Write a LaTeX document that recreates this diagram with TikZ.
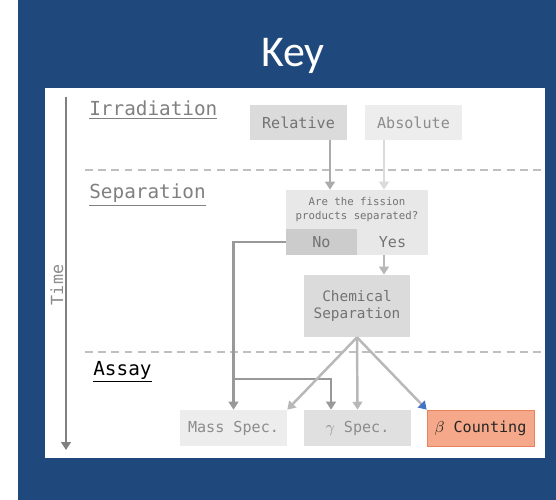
\documentclass[tikz,border=0pt]{standalone}
\usepackage{fontspec}
\setmonofont{DejaVu Sans Mono}
\newfontfamily\keyfont{Carlito}
\usetikzlibrary{positioning}
\usetikzlibrary{arrows.meta}
\usetikzlibrary{calc}

\definecolor{slideblue}{RGB}{31,72,124}
\definecolor{tipblue}{RGB}{68,114,196}
\definecolor{betafill}{RGB}{245,169,138}
\definecolor{betaedge}{RGB}{232,130,92}

\begin{document}
\begin{tikzpicture}[x=0.02cm,y=-0.02cm,
  box/.style={inner sep=0pt, minimum width=1.94cm, minimum height=0.70cm,
    text=black!55, font=\ttfamily\fontsize{8.6}{10.5}\selectfont},
  assay/.style={box, minimum width=2.14cm, minimum height=0.72cm},
  phase/.style={anchor=west, inner sep=0pt, text=black!50,
    font=\ttfamily\fontsize{11}{13}\selectfont},
  divider/.style={black!25, line width=1.1pt, dash pattern=on 4.5pt off 3pt},
  arr/.style={-{Triangle[length=4.5pt,width=5.5pt]}, line width=1.4pt},
  dark/.style={arr, black!40},
  light/.style={arr, black!28},
]

  % background and white panel
  \useasboundingbox (0,0) rectangle (556,500);
  \fill[white] (0,0) rectangle (556,500);
  \fill[slideblue] (18,0) rectangle (556,500);
  \fill[white] (45,88) rectangle (545,458);

  \node[text=white, font=\keyfont\fontsize{25}{28}\selectfont] (key) at (293,56) {Key};

  % time axis
  \coordinate (tstart) at (66,97);
  \coordinate (tend) at (66,450);
  \draw[arr, black!50] (tstart) -- (tend);
  \node[rotate=90, text=black!45, font=\ttfamily\fontsize{9.5}{11}\selectfont] (time) at (57,285) {Time};

  % phases
  \node[phase] (irr) at (89,110) {\underline{Irradiation}};
  \node[phase] (sep) at (89,195) {\underline{Separation}};
  \node[phase, text=black] (ass) at (93,372) {\underline{Assay}};
  \draw[divider] (85,170) -- (541,170);
  \draw[divider] (85,352) -- (541,352);

  % irradiation
  \node[box, fill=black!14] (rel) at (298.5,122.5) {Relative};
  \node[box, fill=black!7, text=black!45] (abs) at (413.5,122.5) {Absolute};

  % separation question
  \node[box, fill=black!9, minimum width=2.84cm, minimum height=0.78cm, align=center,
    font=\ttfamily\fontsize{6.1}{8}\selectfont] (q) at (357,209.5) {Are the fission\\products separated?};
  \node[box, fill=black!20, minimum width=1.42cm, minimum height=0.52cm] (no) at (321.5,242) {No};
  \node[box, fill=black!9, minimum width=1.42cm, minimum height=0.52cm] (yes) at (392.5,242) {Yes};
  \node[box, fill=black!14, minimum width=2.12cm, minimum height=1.24cm, align=center,
    font=\ttfamily\fontsize{8.2}{10}\selectfont] (chem) at (357,306) {Chemical\\Separation};

  % assay
  \node[assay, fill=black!7, text=black!45] (mass) at (233.5,428) {Mass Spec.};
  \node[assay, fill=black!12, text=black!45] (gamma) at (357.5,428) {$\gamma$ Spec.};
  \node[assay, fill=betafill, draw=betaedge, text=black!85] (beta) at (480.5,428) {$\beta$ Counting};

  % arrows into the question
  \draw[dark, black!33] ([xshift=0.63cm]rel.south) -- ([xshift=0.63cm]rel.south |- q.north);
  \draw[light, black!14] ([xshift=-0.59cm]abs.south) -- ([xshift=-0.59cm]abs.south |- q.north);
  \draw[light] ([xshift=-0.17cm]yes.south) -- ([xshift=-0.17cm]yes.south |- chem.north);

  % no separation
  \coordinate (split) at (233.5,379);
  \draw[dark] (no.west) -| (mass.north);
  \draw[dark] (split) -| ([xshift=-0.53cm]gamma.north);

  % after chemical separation
  \draw[light] (chem.south) -- (mass.north east);
  \draw[light] (chem.south) -- (gamma.north);
  \draw[light, -{Triangle[length=4.5pt,width=5.5pt,color=tipblue]}] (chem.south) -- (beta.north west);

\end{tikzpicture}
\end{document}
